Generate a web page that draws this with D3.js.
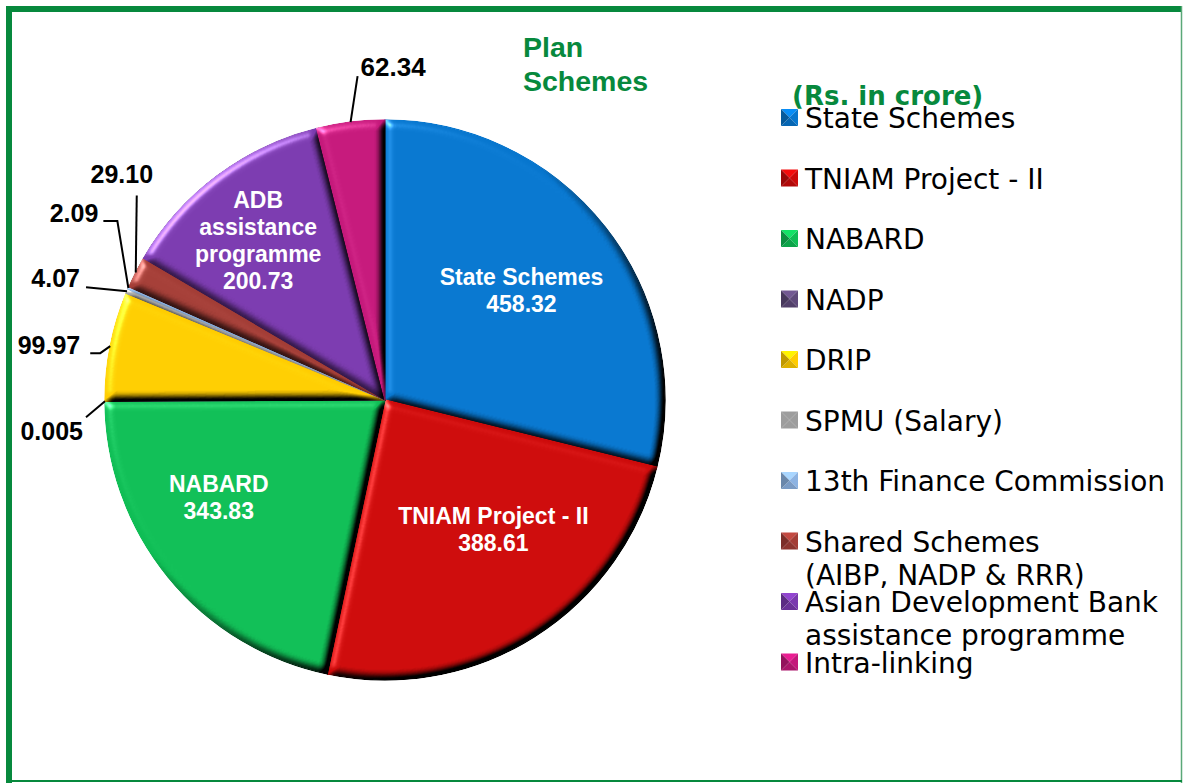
<!DOCTYPE html>
<html>
<head>
<meta charset="utf-8">
<script src="https://cdn.jsdelivr.net/npm/d3@7"></script>
<style>
  body { margin: 0; background: #fff; }
</style>
</head>
<body>
<div id="canvas"></div>
<script>
"use strict"

/***********************************
 DATA (Rs. in crore)
************************************/
let categories = ["State Schemes", "TNIAM Project - II", "NABARD", "NADP", "DRIP",
    "SPMU (Salary)", "13th Finance Commission", "Shared Schemes (AIBP, NADP & RRR)",
    "Asian Development Bank assistance programme", "Intra-linking"];
let values = [458.32, 388.61, 343.83, 0.005, 99.97, 4.07, 2.09, 29.10, 200.73, 62.34];
let valueLabels = ["458.32", "388.61", "343.83", "0.005", "99.97", "4.07", "2.09", "29.10", "200.73", "62.34"];
// names written inside the big slices (null = value shown outside)
let insideNames = [["State Schemes"], ["TNIAM Project - II"], ["NABARD"], null, null,
    null, null, null, ["ADB", "assistance", "programme"], null];
// legend text, wrapped as in the original
let legendLines = [["State Schemes"], ["TNIAM Project - II"], ["NABARD"], ["NADP"], ["DRIP"],
    ["SPMU (Salary)"], ["13th Finance Commission"], ["Shared Schemes", "(AIBP, NADP & RRR)"],
    ["Asian Development Bank", "assistance programme"], ["Intra-linking"]];

/***********************************
 CONFIGURATION VARIABLES
************************************/
let svgWidth = 1184;
let svgHeight = 783;
let cx = 385, cy = 400;
let radius = 280;
let green = "#07893d";
let colors = ["#0776ce", "#cc0a0a", "#0fbd55", "#5f4a7a", "#ffcc00",
    "#9d9d9d", "#8db3e2", "#a33d36", "#7a3aae", "#c4187a"];

let color = d3.scaleOrdinal().domain(categories).range(colors);

/***********************************
 CREATE SVG CANVAS
************************************/
let svg = d3.select("#canvas")
    .append("svg")
    .attr("width", svgWidth)
    .attr("height", svgHeight);

svg.append("rect").attr("width", svgWidth).attr("height", svgHeight).attr("fill", "#fff");

// frame: heavy top / left, light right / bottom
svg.append("rect").attr("x", 6).attr("y", 6).attr("width", 1176).attr("height", 6).attr("fill", green);
svg.append("rect").attr("x", 6).attr("y", 6).attr("width", 6).attr("height", 777).attr("fill", green);
svg.append("line").attr("x1", 1181.5).attr("x2", 1181.5).attr("y1", 6).attr("y2", 783)
    .attr("stroke", "#5aa878").attr("stroke-width", 1.5);
svg.append("line").attr("x1", 6).attr("x2", 1182).attr("y1", 781).attr("y2", 781)
    .attr("stroke", green).attr("stroke-width", 2);

/***********************************
 BEVEL FILTER
************************************/
let defs = svg.append("defs");
let bevel = defs.append("filter")
    .attr("id", "bevel")
    .attr("x", "-10%").attr("y", "-10%").attr("width", "120%").attr("height", "120%")
    .attr("color-interpolation-filters", "sRGB");
bevel.append("feGaussianBlur").attr("in", "SourceAlpha").attr("stdDeviation", 4).attr("result", "blur");
bevel.append("feDiffuseLighting").attr("in", "blur").attr("surfaceScale", 5)
    .attr("diffuseConstant", 2).attr("lighting-color", "#fff").attr("result", "diff")
    .append("feDistantLight").attr("azimuth", 225).attr("elevation", 30);
bevel.append("feComposite").attr("in", "SourceGraphic").attr("in2", "diff")
    .attr("operator", "arithmetic").attr("k1", 1).attr("result", "lit");
bevel.append("feSpecularLighting").attr("in", "blur").attr("surfaceScale", 5)
    .attr("specularConstant", 0.5).attr("specularExponent", 25).attr("lighting-color", "#fff")
    .attr("result", "spec")
    .append("feDistantLight").attr("azimuth", 225).attr("elevation", 30);
bevel.append("feComposite").attr("in", "spec").attr("in2", "SourceAlpha")
    .attr("operator", "in").attr("result", "specIn");
bevel.append("feComposite").attr("in", "lit").attr("in2", "specIn")
    .attr("operator", "arithmetic").attr("k2", 1).attr("k3", 1).attr("result", "out");
bevel.append("feComposite").attr("in", "out").attr("in2", "SourceAlpha").attr("operator", "in");

/***********************************
 PIE
************************************/
let pie = d3.pie().sort(null).value(d => d.value);
let arcs = pie(categories.map((c, i) => ({ name: c, value: values[i], i: i })));

let arc = d3.arc().innerRadius(0).outerRadius(radius);
let edgeArc = d3.arc().innerRadius(radius).outerRadius(radius);

let gPie = svg.append("g").attr("transform", `translate(${cx}, ${cy})`);

gPie.selectAll("path")
    .data(arcs)
    .join("path")
    .attr("d", arc)
    .attr("fill", d => color(d.data.name))
    .attr("stroke", d => color(d.data.name))
    .attr("stroke-width", 1.5)
    .attr("filter", "url(#bevel)");

/***********************************
 INSIDE LABELS
************************************/
let labelArc = d3.arc().innerRadius(radius * 0.66).outerRadius(radius * 0.66);
// small nudges so the labels sit where the original put them
let insideNudge = { 0: [-9, 4], 1: [10, -27], 2: [-23, -19], 8: [-16, -12] };
let lineHeight = 27;

arcs.filter(d => insideNames[d.data.i]).forEach(d => {
    let lines = insideNames[d.data.i].concat([valueLabels[d.data.i]]);
    let [x, y] = labelArc.centroid(d);
    let n = insideNudge[d.data.i] || [0, 0];
    let t = gPie.append("text")
        .attr("text-anchor", "middle")
        .attr("font-family", "'Liberation Sans', Arial, sans-serif")
        .attr("font-weight", "bold")
        .attr("font-size", 23)
        .attr("fill", "#fff");
    let y0 = y + n[1] - (lines.length - 1) * lineHeight / 2 + 8;
    lines.forEach((s, k) => {
        t.append("tspan").attr("x", x + n[0]).attr("y", y0 + k * lineHeight).text(s);
    });
});

/***********************************
 OUTSIDE LABELS + LEADER LINES
************************************/
// leader bends relative to the slice edge, then text anchor / offset
let leaders = {
    3: { pts: [[-19, 16]], text: [-22, 39], anchor: "end" },
    4: { pts: [[-10, 7], [-20, 7]], text: [-30, 8], anchor: "end" },
    5: { pts: [[-41, -4]], text: [-47, -4], anchor: "end" },
    6: { pts: [[-11, -67], [-25, -67]], text: [-30, -66], anchor: "end" },
    7: { pts: [[1, -77]], text: [-14, -89], anchor: "middle" },
    9: { pts: [[7, -46]], text: [10, -46], anchor: "start" }
};

arcs.filter(d => leaders[d.data.i]).forEach(d => {
    let L = leaders[d.data.i];
    let [ex, ey] = edgeArc.centroid(d);
    let pts = [[ex, ey]].concat(L.pts.map(p => [ex + p[0], ey + p[1]]));
    gPie.append("path")
        .attr("d", d3.line()(pts))
        .attr("fill", "none")
        .attr("stroke", "#000")
        .attr("stroke-width", 2);
    gPie.append("text")
        .attr("x", ex + L.text[0])
        .attr("y", ey + L.text[1])
        .attr("text-anchor", L.anchor)
        .attr("font-family", "'Liberation Sans', Arial, sans-serif")
        .attr("font-weight", "bold")
        .attr("font-size", d.data.i === 9 ? 26 : 25)
        .attr("fill", "#000")
        .text(valueLabels[d.data.i]);
});

/***********************************
 TITLE
************************************/
svg.append("text")
    .attr("x", 523)
    .attr("font-family", "'Liberation Sans', Arial, sans-serif")
    .attr("font-weight", "bold")
    .attr("font-size", 28.5)
    .attr("fill", green)
    .selectAll("tspan")
    .data(["Plan", "Schemes"])
    .join("tspan")
    .attr("x", 523)
    .attr("y", (d, i) => 57 + i * 34)
    .text(d => d);

/***********************************
 LEGEND
************************************/
svg.append("text")
    .attr("x", 792)
    .attr("y", 105)
    .attr("font-family", "'DejaVu Sans', Verdana, sans-serif")
    .attr("font-weight", "bold")
    .attr("font-size", 26)
    .attr("fill", green)
    .text("(Rs. in crore)");

let legendY = d3.scaleLinear().domain([0, 1]).range([128, 188.5]);
let sq = 17;

let legend = svg.append("g")
    .selectAll("g")
    .data(categories)
    .join("g")
    .attr("transform", (d, i) => `translate(781, ${legendY(i)})`);

// pyramid-shaded key squares
let facets = [
    { p: [[0, 0], [sq, 0], [sq / 2, sq / 2]], shade: c => d3.color(c).brighter(0.5) },
    { p: [[sq, 0], [sq, sq], [sq / 2, sq / 2]], shade: c => d3.color(c) },
    { p: [[0, sq], [sq, sq], [sq / 2, sq / 2]], shade: c => d3.color(c).darker(0.4) },
    { p: [[0, 0], [0, sq], [sq / 2, sq / 2]], shade: c => d3.color(c).darker(0.8) }
];
legend.each(function (d) {
    let g = d3.select(this);
    facets.forEach(f => {
        g.append("path")
            .attr("d", "M" + f.p.map(p => [p[0], p[1] - 19]).join("L") + "Z")
            .attr("fill", d === "SPMU (Salary)" ? color(d) : f.shade(color(d)));
    });
});

legend.append("text")
    .attr("font-family", "'DejaVu Sans', Verdana, sans-serif")
    .attr("font-size", 28)
    .attr("fill", "#000")
    .selectAll("tspan")
    .data((d, i) => legendLines[i])
    .join("tspan")
    .attr("x", 24)
    .attr("y", (d, k) => k * 33)
    .text(d => d);
</script>
</body>
</html>
